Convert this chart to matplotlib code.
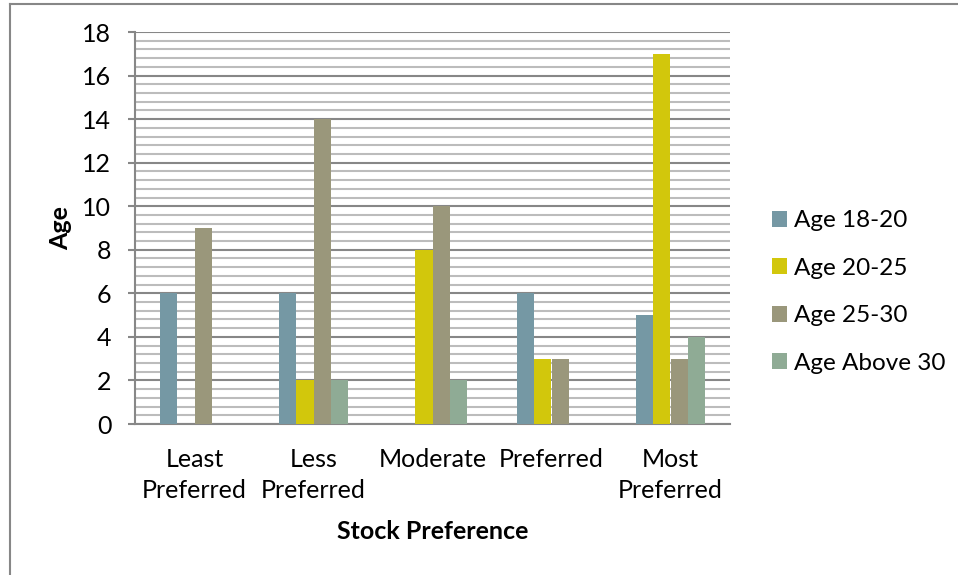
import numpy as np
import matplotlib
matplotlib.use("Agg")
import matplotlib.pyplot as plt
from matplotlib.patches import Patch
from matplotlib.lines import Line2D
from matplotlib.ticker import MultipleLocator

plt.rcParams['font.family'] = ['Lato', 'DejaVu Sans']

# survey counts per stock preference level and age group
categories = ["Least\nPreferred", "Less\nPreferred", "Moderate", "Preferred", "Most\nPreferred"]
groups = ["Age 18-20", "Age 20-25", "Age 25-30", "Age Above 30"]
age_18_20 = [6, 6, 0, 6, 5]
age_20_25 = [0, 2, 8, 3, 17]
age_25_30 = [9, 14, 10, 3, 3]
age_above_30 = [0, 2, 2, 0, 4]

series = [age_18_20, age_20_25, age_25_30, age_above_30]
colors = ["#7598a4", "#d2c70c", "#9a977b", "#8fab95"]

fig = plt.figure(figsize=(9.58, 5.75), dpi=100)
ax = fig.add_axes([135 / 958, 1 - 424 / 575, 595 / 958, 392 / 575])

x = np.arange(len(categories))
w = 0.143
for i, (vals, col) in enumerate(zip(series, colors)):
    ax.bar(x + (i - 1.5) * w, vals, width=w, color=col, label=groups[i], zorder=3)

ax.set_xlim(-0.5, 4.5)
ax.set_ylim(0, 18)
ax.yaxis.set_major_locator(MultipleLocator(2))
ax.yaxis.set_minor_locator(MultipleLocator(0.4))
ax.grid(axis='y', which='major', color='#878787', linewidth=1.5, zorder=1)
ax.grid(axis='y', which='minor', color='#bcbcbc', linewidth=1.5, zorder=1)
ax.set_axisbelow(True)

for s in ['top', 'right']:
    ax.spines[s].set_visible(False)
for s in ['left', 'bottom']:
    ax.spines[s].set_color('#878787')
    ax.spines[s].set_linewidth(1.5)

ax.set_xticks(x)
ax.set_xticklabels(categories, fontsize=18, linespacing=1.45)
ax.tick_params(axis='x', length=0, pad=17)
ax.tick_params(axis='y', which='major', length=5, width=1.5, color='#878787',
               labelsize=18, pad=12)
ax.tick_params(axis='y', which='minor', length=0)

ax.set_ylabel("Age", fontsize=18, fontweight='bold')
ax.yaxis.set_label_coords(-0.106, 0.5)
ax.set_xlabel("Stock Preference", fontsize=18, fontweight='bold')
ax.xaxis.set_label_coords(0.5, -0.245)

handles = [Patch(facecolor=c, edgecolor='none') for c in colors]
fig.legend(handles, groups, loc='center left', bbox_to_anchor=(772 / 958, 1 - 292 / 575),
           frameon=False, fontsize=17.5, borderpad=0, handlelength=0.62, handleheight=0.62,
           handletextpad=0.3, labelspacing=1.09, borderaxespad=0)

# outer chart border (only left and top edges fall inside the image)
fig.add_artist(Line2D([9.5 / 958, 9.5 / 958], [0, 1 - 3.5 / 575], color='#878787', linewidth=1.5))
fig.add_artist(Line2D([9.5 / 958, 1], [1 - 3.5 / 575, 1 - 3.5 / 575], color='#878787', linewidth=1.5))

fig.savefig("out.png", dpi=100)
